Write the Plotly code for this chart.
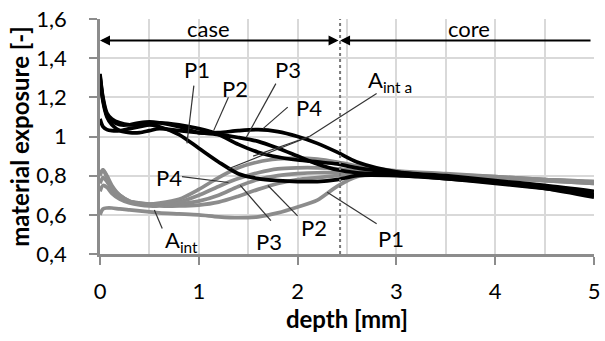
import plotly.graph_objects as go

depth = [0, 0.03, 0.07, 0.12, 0.2, 0.3, 0.4, 0.5, 0.6, 0.8, 1.0, 1.2, 1.4, 1.6, 1.8, 2.0, 2.2, 2.4, 2.6, 3.0, 3.5, 4.0, 4.5, 5.0]

# black curves (P1..P4)
black_p1 = [1.32, 1.2, 1.12, 1.09, 1.07, 1.06, 1.06, 1.06, 1.05, 1.01, 0.94, 0.87, 0.81, 0.785, 0.775, 0.77, 0.77, 0.78, 0.80, 0.80, 0.785, 0.765, 0.74, 0.70]
black_p2 = [1.09, 1.05, 1.035, 1.03, 1.03, 1.04, 1.05, 1.06, 1.07, 1.06, 1.04, 1.01, 0.96, 0.92, 0.895, 0.88, 0.87, 0.86, 0.84, 0.815, 0.79, 0.765, 0.735, 0.69]
black_p3 = [1.30, 1.18, 1.10, 1.06, 1.03, 1.02, 1.02, 1.03, 1.04, 1.03, 1.02, 1.01, 0.995, 0.975, 0.94, 0.90, 0.86, 0.83, 0.815, 0.805, 0.785, 0.76, 0.735, 0.705]
black_p4 = [1.31, 1.19, 1.11, 1.08, 1.06, 1.06, 1.07, 1.075, 1.07, 1.05, 1.02, 1.02, 1.03, 1.035, 1.025, 1.0, 0.965, 0.92, 0.87, 0.82, 0.80, 0.775, 0.75, 0.72]

# grey curves (A_int P1..P4, A_int a)
grey_p1 = [0.60, 0.63, 0.635, 0.635, 0.63, 0.625, 0.62, 0.615, 0.61, 0.605, 0.60, 0.59, 0.585, 0.59, 0.61, 0.64, 0.675, 0.745, 0.795, 0.81, 0.80, 0.79, 0.775, 0.76]
grey_p2 = [0.72, 0.75, 0.74, 0.71, 0.68, 0.66, 0.65, 0.645, 0.645, 0.645, 0.65, 0.665, 0.695, 0.73, 0.76, 0.78, 0.79, 0.80, 0.81, 0.815, 0.80, 0.79, 0.775, 0.76]
grey_p3 = [0.76, 0.79, 0.77, 0.73, 0.69, 0.665, 0.655, 0.65, 0.65, 0.655, 0.67, 0.70, 0.745, 0.78, 0.80, 0.81, 0.815, 0.815, 0.815, 0.815, 0.80, 0.79, 0.78, 0.765]
grey_p4 = [0.80, 0.83, 0.80, 0.75, 0.70, 0.67, 0.66, 0.655, 0.655, 0.665, 0.70, 0.745, 0.785, 0.815, 0.835, 0.84, 0.84, 0.835, 0.825, 0.82, 0.805, 0.795, 0.78, 0.77]
grey_a = [0.81, 0.83, 0.79, 0.74, 0.70, 0.67, 0.66, 0.655, 0.66, 0.68, 0.73, 0.79, 0.84, 0.87, 0.885, 0.89, 0.885, 0.87, 0.85, 0.825, 0.81, 0.795, 0.78, 0.77]

x_ticks = [0, 1, 2, 3, 4, 5]
y_ticks = [0.4, 0.6, 0.8, 1.0, 1.2, 1.4, 1.6]
y_tick_text = ["0,4", "0,6", "0,8", "1", "1,2", "1,4", "1,6"]
boundary = 2.43

FONT = "Lato"
GREY = "#8c8c8c"

fig = go.Figure()
for ys in [grey_p1, grey_p2, grey_p3, grey_p4, grey_a]:
    fig.add_trace(go.Scatter(x=depth, y=ys, mode="lines",
                             line=dict(color=GREY, width=3.7, shape="spline", smoothing=0.8),
                             showlegend=False, hoverinfo="skip"))
for ys in [black_p1, black_p2, black_p3, black_p4]:
    fig.add_trace(go.Scatter(x=depth, y=ys, mode="lines",
                             line=dict(color="black", width=3.7, shape="spline", smoothing=0.8),
                             showlegend=False, hoverinfo="skip"))

shapes = []
shapes.append(dict(type="line", xref="x", yref="y", x0=boundary, x1=boundary, y0=0.4, y1=1.6,
                   line=dict(color="#777777", width=2, dash="dot")))
leaders = [
    ((0.95, 1.26), (0.88, 0.965)),
    ((1.30, 1.20), (1.15, 1.03)),
    ((1.78, 1.27), (1.48, 0.995)),
    ((1.90, 1.15), (1.65, 1.04)),
    ((2.80, 1.22), (2.12, 1.0)),
    ((2.12, 1.0), (1.30, 0.835)),
    ((2.12, 1.0), (1.55, 0.90)),
    ((0.83, 0.795), (1.30, 0.765)),
    ((0.63, 0.53), (0.55, 0.625)),
    ((1.73, 0.57), (1.42, 0.75)),
    ((2.00, 0.595), (1.70, 0.75)),
    ((2.80, 0.555), (2.30, 0.715)),
]
for (xa, ya), (xb, yb) in leaders:
    shapes.append(dict(type="line", xref="x", yref="y", x0=xa, y0=ya, x1=xb, y1=yb,
                       line=dict(color="#333333", width=1.2)))

ann = []
def label(x, y, t, size=22):
    ann.append(dict(x=x, y=y, xref="x", yref="y", text=t, showarrow=False,
                    font=dict(family=FONT, size=size, color="black")))

label(1.10, 1.55, "case")
label(3.73, 1.55, "core")
label(0.98, 1.34, "P1")
label(1.37, 1.245, "P2")
label(1.90, 1.34, "P3")
label(2.12, 1.15, "P4")
label(2.94, 1.285, "A<sub>int a</sub>")
label(0.70, 0.79, "P4")
label(0.82, 0.465, "A<sub>int</sub>")
label(1.71, 0.465, "P3")
label(2.17, 0.535, "P2")
label(2.95, 0.48, "P1")

arrow_y = 1.49
ann.append(dict(x=0, y=arrow_y, ax=boundary, ay=arrow_y, xref="x", yref="y", axref="x", ayref="y",
                text="", showarrow=True, arrowhead=2, arrowsize=1, arrowwidth=2, arrowside="end+start",
                arrowcolor="black"))
ann.append(dict(x=boundary, y=arrow_y, ax=4.98, ay=arrow_y, xref="x", yref="y", axref="x", ayref="y",
                text="", showarrow=True, arrowhead=2, arrowsize=1, arrowwidth=2, arrowside="end",
                arrowcolor="black"))

fig.update_layout(
    width=605, height=341,
    margin=dict(l=100, r=5, t=19, b=87),
    paper_bgcolor="white", plot_bgcolor="white",
    font=dict(family=FONT, size=22, color="black"),
    shapes=shapes, annotations=ann,
    xaxis=dict(range=[0, 5], tickvals=x_ticks, showgrid=True, gridcolor="#d9d9d9", gridwidth=2,
               minor=dict(dtick=0.5, showgrid=True, gridcolor="#d9d9d9", gridwidth=2),
               showline=True, linecolor="#8c8c8c", linewidth=2.5,
               ticks="outside", ticklen=8, tickwidth=2, tickcolor="#8c8c8c",
               ticklabelstandoff=8, ticklabeloverflow="allow", zeroline=False,
               tickfont=dict(family=FONT, size=22),
               title=dict(text="<b>depth [mm]</b>", font=dict(family=FONT, size=24), standoff=8)),
    yaxis=dict(range=[0.4, 1.6], tickvals=y_ticks, ticktext=y_tick_text, showgrid=True,
               gridcolor="#d9d9d9", gridwidth=2,
               showline=True, linecolor="#8c8c8c", linewidth=2.5,
               ticks="outside", ticklen=8, tickwidth=2, tickcolor="#8c8c8c",
               ticklabelstandoff=18, zeroline=False,
               tickfont=dict(family=FONT, size=22),
               title=dict(text="<b>material exposure [-]</b>", font=dict(family=FONT, size=24), standoff=0)),
)

fig.write_html("out.html")
